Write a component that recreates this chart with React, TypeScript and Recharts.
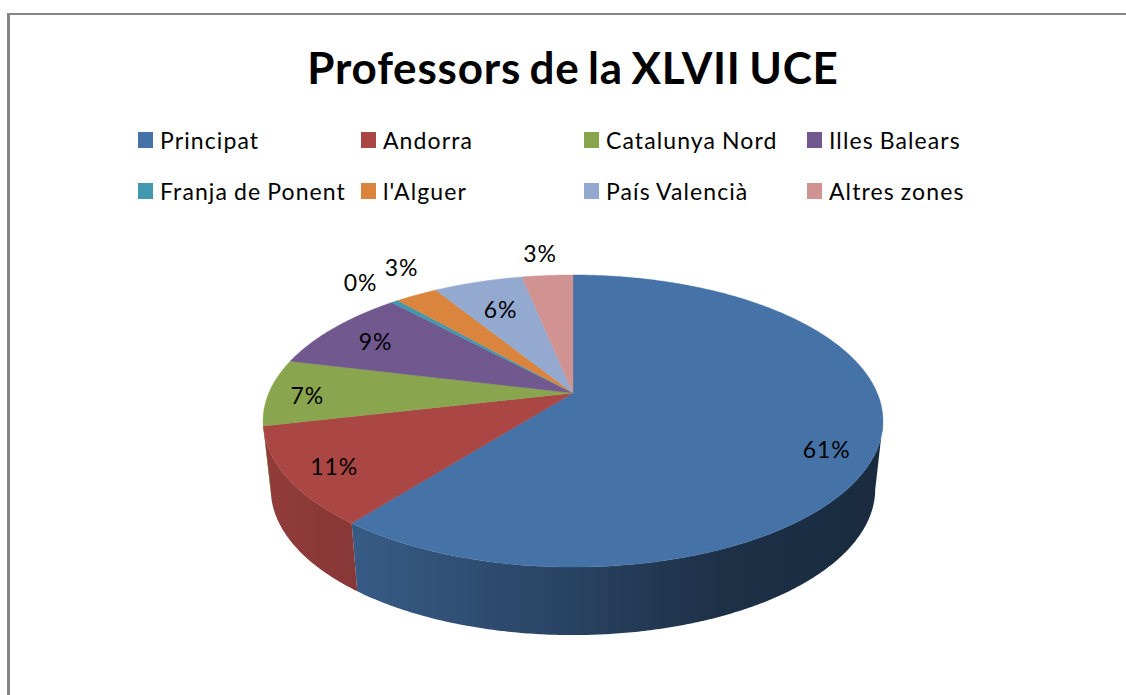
import React from 'react'
import { PieChart, Pie, Legend } from 'recharts'

const categories = ['Principat', 'Andorra', 'Catalunya Nord', 'Illes Balears', 'Franja de Ponent', "l'Alguer", 'País Valencià', 'Altres zones']
const shares = [60.6, 10.8, 7.4, 9.3, 0.45, 2.65, 5.6, 3.2]
const colors = ['#4572A7', '#AA4643', '#89A54E', '#71588F', '#4198AF', '#DB843D', '#93A9CF', '#D19392']

// label placement: fraction of the radius, and degrees off the slice's middle
const labelRadius = [0.86, 0.858, 0.87, 0.8, 1.235, 1.27, 0.72, 1.226]
const labelTurn = [-6.8, 1.4, 1.8, 1.1, -0.3, -4.1, 0.3, 0.5]

const rows = categories.map((name, i) => ({ name, value: shares[i], fill: colors[i] }))

const WIDTH = 1126
const HEIGHT = 695
const CX = 573
const CY = 393
const RADIUS = 304.2
const FONT = 'Lato, sans-serif'

// the excel 3d look: a perspective projection of the flat circle
const TILT = 0.4625
const PERSPECTIVE = -0.1918
const WALL_DROP = 68
const WALL_SHRINK = 0.975
const WALL_FROM = 0.19

const project = (cx: number, cy: number, r: number, angle: number, frac = 1) => {
  const rad = (angle * Math.PI) / 180
  const u = Math.cos(rad) * frac
  const v = -Math.sin(rad) * frac
  const d = 1 + PERSPECTIVE * v
  return { x: cx + (r * u) / d, y: cy + (r * TILT * v) / d, v }
}

const arcPoints = (cx: number, cy: number, r: number, start: number, end: number) => {
  const steps = Math.max(2, Math.ceil(Math.abs(end - start) * 2))
  const out = []
  for (let i = 0; i <= steps; i++) out.push(project(cx, cy, r, start + ((end - start) * i) / steps))
  return out
}

const shade = (hex: string, f: number) => {
  const n = parseInt(hex.slice(1), 16)
  const c = [(n >> 16) & 255, (n >> 8) & 255, n & 255].map(x => Math.round(x * f))
  return `rgb(${c.join(',')})`
}

const TopSlice = (props: any) => {
  const { cx, cy, outerRadius, startAngle, endAngle, fill } = props
  const pts = arcPoints(cx, cy, outerRadius, startAngle, endAngle)
  const d = `M${cx},${cy}L` + pts.map(p => `${p.x.toFixed(2)},${p.y.toFixed(2)}`).join('L') + 'Z'
  return <path d={d} fill={fill} stroke={fill} strokeWidth={0.4} />
}

const WallSlice = (props: any) => {
  const { cx, cy, outerRadius, startAngle, endAngle, fill, index } = props
  const pts = arcPoints(cx, cy, outerRadius, startAngle, endAngle).filter(p => p.v >= WALL_FROM)
  if (pts.length < 2) return null
  const lower = pts.map(p => ({ x: cx + (p.x - cx) * WALL_SHRINK, y: p.y + WALL_DROP })).reverse()
  const d = 'M' + [...pts, ...lower].map(p => `${p.x.toFixed(2)},${p.y.toFixed(2)}`).join('L') + 'Z'
  const id = `wall-${index}`
  const left = cx - outerRadius * 1.02
  const right = cx + outerRadius * 1.02
  return (
    <g>
      <defs>
        <linearGradient id={id} gradientUnits="userSpaceOnUse" x1={left} x2={right} y1={0} y2={0}>
          <stop offset="0%" stopColor={shade(fill, 0.86)} />
          <stop offset="16%" stopColor={shade(fill, 0.79)} />
          <stop offset="50%" stopColor={shade(fill, 0.58)} />
          <stop offset="75%" stopColor={shade(fill, 0.42)} />
          <stop offset="100%" stopColor={shade(fill, 0.38)} />
        </linearGradient>
      </defs>
      <path d={d} fill={`url(#${id})`} />
    </g>
  )
}

const SliceLabel = (props: any) => {
  const { cx, cy, outerRadius, midAngle, percent, index } = props
  const p = project(cx, cy, outerRadius, midAngle + labelTurn[index], labelRadius[index])
  return (
    <text x={p.x} y={p.y} dy="0.36em" textAnchor="middle" fontFamily={FONT} fontSize={23} letterSpacing={0.9} fill="#000">
      {`${Math.round(percent * 100)}%`}
    </text>
  )
}

// both pies feed the legend, so keep one entry per category
const LegendGrid = ({ payload }: any) => {
  const items = categories.map(name => (payload || []).find((p: any) => p.value === name)).filter(Boolean)
  return (
    <div style={{ display: 'grid', gridTemplateColumns: 'repeat(4, 223px)', gridAutoRows: '51px' }}>
      {items.map((item: any) => (
        <div key={item.value} style={{ display: 'flex', alignItems: 'center', height: 32, whiteSpace: 'nowrap' }}>
          <span style={{ width: 15, height: 16, background: item.color, marginRight: 7, flex: 'none' }} />
          <span style={{ fontFamily: FONT, fontSize: 23, letterSpacing: 1.1, wordSpacing: -1, color: '#000' }}>{item.value}</span>
        </div>
      ))}
    </div>
  )
}

export default function App() {
  return (
    <div style={{ position: 'absolute', left: 0, top: 0, width: WIDTH, height: HEIGHT, background: '#fff', overflow: 'hidden' }}>
      {/* frame of the pasted chart: only top and left are in the picture */}
      <div style={{ position: 'absolute', left: 7, top: 13, right: 0, height: 2, background: '#868686' }} />
      <div style={{ position: 'absolute', left: 7, top: 13, bottom: 0, width: 3, background: '#868686' }} />
      <div style={{ position: 'absolute', left: 0, width: CX * 2, top: 39, textAlign: 'center', fontFamily: FONT, fontWeight: 700, fontSize: 44, lineHeight: '56px', letterSpacing: 0.8, wordSpacing: -3, color: '#000' }}>
        Professors de la XLVII UCE
      </div>
      <div style={{ position: 'absolute', left: 0, top: 0 }}>
        <PieChart width={WIDTH} height={HEIGHT} margin={{ top: 0, right: 0, bottom: 0, left: 0 }}>
          <Pie
            data={rows}
            dataKey="value"
            nameKey="name"
            cx={CX}
            cy={CY}
            outerRadius={RADIUS}
            startAngle={90}
            endAngle={-270}
            legendType="none"
            shape={WallSlice}
            isAnimationActive={false}
          />
          <Pie
            data={rows}
            dataKey="value"
            nameKey="name"
            cx={CX}
            cy={CY}
            outerRadius={RADIUS}
            startAngle={90}
            endAngle={-270}
            shape={TopSlice}
            label={SliceLabel}
            labelLine={false}
            isAnimationActive={false}
          />
          <Legend
            content={<LegendGrid />}
            wrapperStyle={{ position: 'absolute', left: 138, top: 124, width: 900, height: 100, bottom: 'auto' }}
          />
        </PieChart>
      </div>
    </div>
  )
}
